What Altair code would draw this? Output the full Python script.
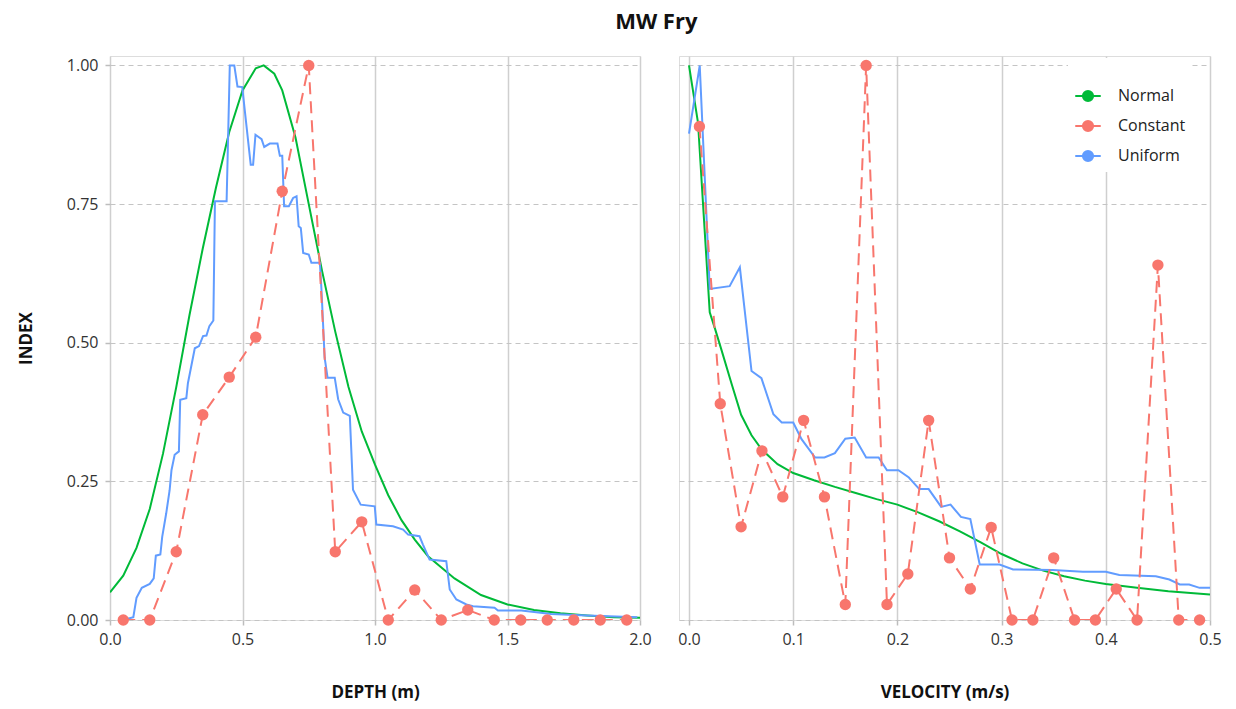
import altair as alt
import pandas as pd

FONT = "Open Sans"
SERIES = ["Normal", "Constant", "Uniform"]
COLORS = ["#00BA38", "#F8766D", "#619CFF"]

# ---------------- DEPTH panel ----------------
depth_normal_x = [0.00, 0.05, 0.10, 0.15, 0.20, 0.25, 0.30, 0.35, 0.40, 0.45, 0.50, 0.55, 0.58,
                  0.62, 0.65, 0.70, 0.75, 0.80, 0.85, 0.90, 0.95, 1.00, 1.05, 1.10, 1.15, 1.20,
                  1.30, 1.40, 1.50, 1.60, 1.70, 1.80, 1.90, 2.00]
depth_normal_y = [0.05, 0.08, 0.13, 0.20, 0.30, 0.42, 0.55, 0.67, 0.78, 0.88, 0.955, 0.995, 1.00,
                  0.985, 0.955, 0.87, 0.75, 0.63, 0.52, 0.42, 0.34, 0.28, 0.225, 0.18, 0.145, 0.115,
                  0.075, 0.045, 0.028, 0.018, 0.012, 0.008, 0.005, 0.004]

depth_const_x = [0.05, 0.15, 0.25, 0.35, 0.45, 0.55, 0.65, 0.75, 0.85, 0.95,
                 1.05, 1.15, 1.25, 1.35, 1.45, 1.55, 1.65, 1.75, 1.85, 1.95]
depth_const_y = [0.0, 0.0, 0.123, 0.37, 0.438, 0.51, 0.773, 1.0, 0.123, 0.177,
                 0.0, 0.054, 0.0, 0.018, 0.0, 0.0, 0.0, 0.0, 0.0, 0.0]

depth_unif_x = [0.05, 0.088, 0.10, 0.12, 0.15, 0.165, 0.173, 0.19, 0.197, 0.212, 0.225, 0.232,
                0.244, 0.26, 0.265, 0.288, 0.294, 0.32, 0.336, 0.351, 0.364, 0.375, 0.39, 0.396,
                0.44, 0.452, 0.469, 0.481, 0.499, 0.531, 0.54, 0.549, 0.572, 0.582, 0.603, 0.632,
                0.641, 0.65, 0.657, 0.675, 0.691, 0.704, 0.712, 0.72, 0.729, 0.75, 0.76, 0.792,
                0.798, 0.81, 0.821, 0.848, 0.861, 0.88, 0.905, 0.917, 0.946, 0.999, 1.005, 1.068,
                1.106, 1.125, 1.168, 1.181, 1.206, 1.269, 1.282, 1.307, 1.345, 1.37, 1.451, 1.464,
                1.552, 1.665, 1.80, 1.99]
depth_unif_y = [0.0, 0.005, 0.04, 0.058, 0.065, 0.075, 0.116, 0.118, 0.15, 0.192, 0.234, 0.27,
                0.298, 0.304, 0.397, 0.40, 0.427, 0.49, 0.494, 0.512, 0.513, 0.53, 0.54, 0.755,
                0.755, 1.0, 1.0, 0.962, 0.961, 0.821, 0.821, 0.875, 0.867, 0.853, 0.859, 0.859,
                0.837, 0.837, 0.746, 0.746, 0.761, 0.764, 0.71, 0.707, 0.662, 0.659, 0.644, 0.644,
                0.596, 0.473, 0.437, 0.437, 0.398, 0.374, 0.368, 0.235, 0.208, 0.205, 0.172, 0.169,
                0.163, 0.154, 0.151, 0.136, 0.109, 0.106, 0.055, 0.037, 0.028, 0.025, 0.022, 0.017,
                0.017, 0.011, 0.008, 0.005]

# ---------------- VELOCITY panel ----------------
vel_normal_x = [0.0, 0.0087, 0.0135, 0.0199, 0.025, 0.031, 0.041, 0.05, 0.06, 0.07, 0.085, 0.10,
                0.12, 0.14, 0.16, 0.18, 0.20, 0.22, 0.24, 0.26, 0.28, 0.30, 0.32, 0.34, 0.36,
                0.38, 0.40, 0.43, 0.46, 0.50]
vel_normal_y = [1.0, 0.896, 0.749, 0.555, 0.525, 0.488, 0.425, 0.37, 0.333, 0.307, 0.281, 0.265,
                0.252, 0.24, 0.229, 0.218, 0.208, 0.194, 0.178, 0.16, 0.14, 0.119, 0.102, 0.089,
                0.079, 0.071, 0.065, 0.058, 0.052, 0.046]

vel_const_x = [0.01, 0.03, 0.05, 0.07, 0.09, 0.11, 0.13, 0.15, 0.17, 0.19, 0.21, 0.23, 0.25,
               0.27, 0.29, 0.31, 0.33, 0.35, 0.37, 0.39, 0.41, 0.43, 0.45, 0.47, 0.49]
vel_const_y = [0.89, 0.39, 0.168, 0.305, 0.222, 0.36, 0.222, 0.028, 1.0, 0.028, 0.083, 0.36, 0.112,
               0.056, 0.167, 0.0, 0.0, 0.112, 0.0, 0.0, 0.056, 0.0, 0.64, 0.0, 0.0]

vel_unif_x = [0.0, 0.0103, 0.0199, 0.039, 0.0488, 0.06, 0.0695, 0.081, 0.089, 0.10, 0.108, 0.121,
              0.13, 0.14, 0.15, 0.159, 0.17, 0.182, 0.19, 0.201, 0.211, 0.221, 0.23, 0.242, 0.251,
              0.261, 0.27, 0.279, 0.298, 0.311, 0.349, 0.378, 0.40, 0.413, 0.448, 0.461, 0.471,
              0.48, 0.49, 0.50]
vel_unif_y = [0.877, 1.0, 0.597, 0.602, 0.636, 0.449, 0.436, 0.371, 0.356, 0.356, 0.326, 0.293,
              0.293, 0.301, 0.327, 0.329, 0.293, 0.293, 0.27, 0.27, 0.257, 0.236, 0.236, 0.204,
              0.208, 0.186, 0.182, 0.10, 0.10, 0.091, 0.09, 0.087, 0.087, 0.081, 0.079, 0.073,
              0.064, 0.064, 0.058, 0.058]

depth_ticks = [0.0, 0.5, 1.0, 1.5, 2.0]
vel_ticks = [0.0, 0.1, 0.2, 0.3, 0.4, 0.5]
y_ticks = [0.0, 0.25, 0.5, 0.75, 1.0]


def frame(xs, ys, name):
    return pd.DataFrame({"x": xs, "y": ys, "series": name})


depth_solid = pd.concat([frame(depth_normal_x, depth_normal_y, "Normal"),
                         frame(depth_unif_x, depth_unif_y, "Uniform")])
depth_const = frame(depth_const_x, depth_const_y, "Constant")
vel_solid = pd.concat([frame(vel_normal_x, vel_normal_y, "Normal"),
                       frame(vel_unif_x, vel_unif_y, "Uniform")])
vel_const = frame(vel_const_x, vel_const_y, "Constant")

LEG_PATH = ("M-1,0L1,0M-0.4,0A0.4,0.4 0 1,1 0.4,0"
            "A0.4,0.4 0 1,1 -0.4,0Z")


def panel(solid, const, xdom, xticks, xtitle, left):
    xax = alt.Axis(values=xticks, format=".1f", title=xtitle, grid=True,
                   gridColor="#cfcfcf", gridWidth=1.5, domain=False,
                   tickColor="#bdbdbd", tickSize=5, tickWidth=1.5,
                   labelFontSize=16, labelFont=FONT, labelColor="#333333", labelPadding=6,
                   titleFontSize=17, titleFont=FONT, titleFontWeight="bold",
                   titleColor="#111111", titlePadding=37, labelFlush=False)
    if left:
        yax = alt.Axis(values=y_ticks, format=".2f", title="INDEX", grid=True,
                       gridColor="#c4c4c4", gridDash=[5, 4], gridWidth=1, domain=False,
                       tickColor="#bdbdbd", tickSize=5, tickWidth=1.5,
                       labelFontSize=16, labelFont=FONT, labelColor="#333333", labelPadding=7,
                       titleFontSize=17, titleFont=FONT, titleFontWeight="bold",
                       titleColor="#111111", titlePadding=31)
    else:
        yax = alt.Axis(values=y_ticks, title=None, grid=True, labels=False, ticks=False,
                       gridColor="#c4c4c4", gridDash=[5, 4], gridWidth=1, domain=False)
    xenc = alt.X("x:Q", scale=alt.Scale(domain=xdom, nice=False, zero=False), axis=xax)
    yenc = alt.Y("y:Q", scale=alt.Scale(domain=[0, 1.017], nice=False, zero=False), axis=yax)
    sc = alt.Scale(domain=SERIES, range=COLORS)
    col_nol = alt.Color("series:N", scale=sc, legend=None)

    lines = alt.Chart(solid).mark_line(strokeWidth=2, clip=True).encode(
        x=xenc, y=yenc, color=col_nol, detail="series:N")
    cline = alt.Chart(const).mark_line(strokeWidth=2, strokeDash=[12, 7], clip=True).encode(
        x=xenc, y=yenc, color=col_nol)
    if left:
        cpts = alt.Chart(const).mark_point(filled=True, size=130, opacity=1).encode(
            x=xenc, y=yenc, color=col_nol)
    else:
        leg = alt.Legend(
            title=" ", titleFontSize=14, titlePadding=4,
            orient="none", legendX=389, legendY=2,
            symbolType=LEG_PATH, symbolSize=650, symbolStrokeWidth=2,
            labelFontSize=16, labelFont=FONT, labelColor="#222222", labelOffset=16,
            rowPadding=6, fillColor="white", padding=6)
        cpts = alt.Chart(const).mark_point(filled=True, size=88, opacity=1, strokeWidth=2).encode(
            x=xenc, y=yenc,
            fill=alt.Fill("series:N", scale=sc, legend=leg),
            stroke=alt.Stroke("series:N", scale=sc, legend=leg))
    w = 530 if left else 531
    return alt.layer(lines, cline, cpts).properties(width=w, height=564)


left = panel(depth_solid, depth_const, [0, 2.0], depth_ticks, "DEPTH (m)", True)
right = panel(vel_solid, vel_const, [-0.0096, 0.5], vel_ticks, "VELOCITY (m/s)", False)

chart = alt.hconcat(left, right, spacing=39, bounds="flush").resolve_legend(
    fill="independent", stroke="independent").properties(
    title=alt.TitleParams("MW Fry", fontSize=22, fontWeight="bold", font=FONT,
                          color="#111111", anchor="middle", dx=37, offset=22),
    padding={"left": 16, "top": 10, "right": 10, "bottom": 8},
).configure_view(stroke="#d4d4d4", strokeWidth=2).configure(background="white")

chart.save("out.html", embed_options={"renderer": "svg", "actions": False})
